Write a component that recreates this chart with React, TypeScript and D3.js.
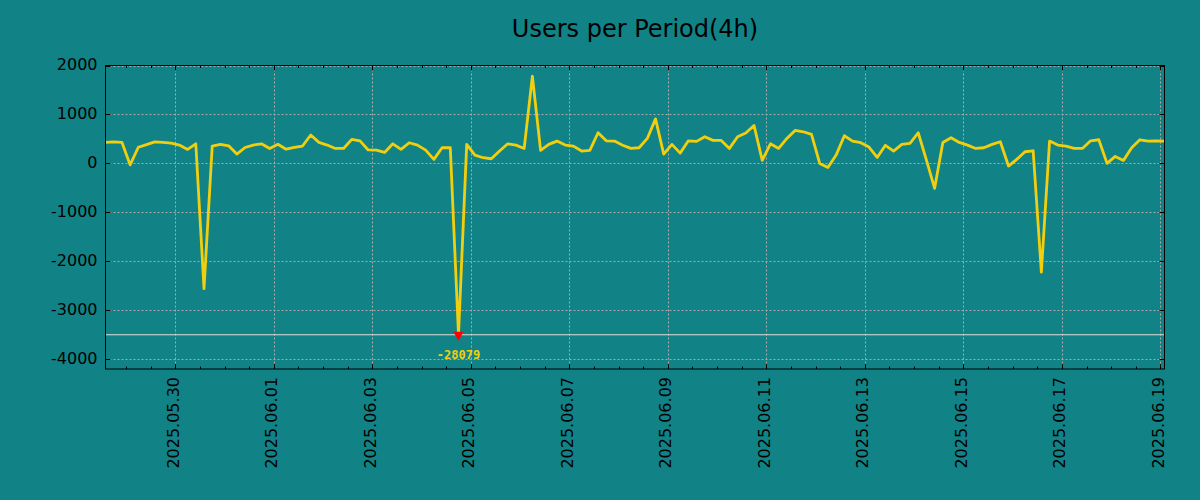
import { useEffect, useRef } from "react";
import * as d3 from "d3";

// 4h periods, first period starts here
const START_TIME = "2025-05-28T14:00:00";
const PERIOD_HOURS = 4;

const userCounts = [
  430, 440, 430, -30, 330, 385, 440, 430, 415, 375,
  285, 400, -2560, 355, 390, 360, 190, 325, 375, 400,
  305, 390, 290, 325, 355, 580, 430, 375, 305, 305,
  490, 460, 275, 272, 224, 400, 286, 422, 374, 272,
  82, 320, 320, -28079, 388, 170, 116, 95, 252, 400,
  374, 306, 1780, 265, 388, 456, 374, 354, 252, 265,
  626, 462, 456, 370, 306, 320, 510, 910, 190, 388,
  210, 462, 450, 544, 470, 470, 306, 544, 620, 775,
  61, 400, 306, 510, 673, 646, 592, 0, -82, 170,
  564, 456, 422, 333, 122, 370, 252, 388, 408, 626,
  68, -510, 428, 524, 428, 374, 306, 320, 388, 442,
  -54, 82, 238, 258, -2220, 456, 374, 354, 306, 306,
  462, 483, 0, 143, 61, 320, 483, 456, 462, 456,
];

const xTickLabels = [
  "2025.05.30", "2025.06.01", "2025.06.03", "2025.06.05", "2025.06.07",
  "2025.06.09", "2025.06.11", "2025.06.13", "2025.06.15", "2025.06.17",
  "2025.06.19",
];
const yTicks = [-4000, -3000, -2000, -1000, 0, 1000, 2000];
const yDomain = [-4200, 2000];

// values below this are drawn at the limit with a marker
const CLIP_VALUE = -3500;
const TITLE = "Users per Period(4h)";

const BG = "#118387";
const LINE = "#f2cf0e";
const GRID = "#a9a9a9";
const FONT = "'DejaVu Sans', sans-serif";

export default function App() {
  const svgRef = useRef<SVGSVGElement | null>(null);

  useEffect(() => {
    if (!svgRef.current) return;

    const width = 1200;
    const height = 500;
    const left = 105.5;
    const right = 1164.5;
    const top = 65.5;
    const bottom = 369;

    const svg = d3.select(svgRef.current);
    svg.selectAll("*").remove();

    svg.append("rect").attr("width", width).attr("height", height).attr("fill", BG);

    const start = new Date(START_TIME);
    const data = userCounts.map((v, i) => ({
      time: d3.timeHour.offset(start, i * PERIOD_HOURS),
      value: v,
    }));

    const x = d3
      .scaleTime()
      .domain([data[0].time, data[data.length - 1].time])
      .range([left, right]);
    const y = d3.scaleLinear().domain(yDomain).range([bottom, top]);

    const parseTick = d3.timeParse("%Y.%m.%d");
    const xTicks = xTickLabels.map((s) => parseTick(s) as Date);
    const minorTicks = d3.timeHour
      .every(12)!
      .range(x.domain()[0], d3.timeHour.offset(x.domain()[1], 1));

    // grid
    const grid = svg.append("g").attr("stroke", GRID).attr("stroke-width", 1).attr("stroke-dasharray", "2,2");
    grid
      .selectAll("line.gx")
      .data(xTicks)
      .join("line")
      .attr("x1", (d) => Math.round(x(d)) + 0.5)
      .attr("x2", (d) => Math.round(x(d)) + 0.5)
      .attr("y1", top)
      .attr("y2", bottom);
    grid
      .selectAll("line.gy")
      .data(yTicks)
      .join("line")
      .attr("x1", left)
      .attr("x2", right)
      .attr("y1", (d) => Math.round(y(d)) + 0.5)
      .attr("y2", (d) => Math.round(y(d)) + 0.5);

    // limit line
    svg
      .append("line")
      .attr("x1", left)
      .attr("x2", right)
      .attr("y1", y(CLIP_VALUE))
      .attr("y2", y(CLIP_VALUE))
      .attr("stroke", "#e2ddd9")
      .attr("stroke-width", 1.2);

    svg
      .append("clipPath")
      .attr("id", "plot-clip")
      .append("rect")
      .attr("x", left)
      .attr("y", top)
      .attr("width", right - left)
      .attr("height", bottom - top);

    const line = d3
      .line<{ time: Date; value: number }>()
      .x((d) => x(d.time))
      .y((d) => y(Math.max(d.value, CLIP_VALUE)));

    svg
      .append("path")
      .datum(data)
      .attr("clip-path", "url(#plot-clip)")
      .attr("fill", "none")
      .attr("stroke", LINE)
      .attr("stroke-width", 2.8)
      .attr("stroke-linejoin", "round")
      .attr("d", line);

    // outlier markers
    const outliers = data.filter((d) => d.value < CLIP_VALUE);
    const yc = y(CLIP_VALUE);
    svg
      .selectAll("path.outlier")
      .data(outliers)
      .join("path")
      .attr("fill", "#ff0000")
      .attr("d", (d) => {
        const cx = x(d.time);
        return `M${cx - 5},${yc - 3}L${cx + 5},${yc - 3}L${cx},${yc + 6}Z`;
      });
    svg
      .selectAll("text.outlier")
      .data(outliers)
      .join("text")
      .attr("x", (d) => x(d.time))
      .attr("y", yc + 24.5)
      .attr("text-anchor", "middle")
      .attr("font-family", "'DejaVu Sans Mono', monospace")
      .attr("font-weight", "bold")
      .attr("font-size", 12)
      .attr("fill", LINE)
      .text((d) => String(d.value));

    // frame
    svg
      .append("rect")
      .attr("x", left)
      .attr("y", top)
      .attr("width", right - left)
      .attr("height", bottom - top)
      .attr("fill", "none")
      .attr("stroke", "#000")
      .attr("stroke-width", 1);

    // ticks, pointing inward on all sides
    const ticks = svg.append("g").attr("stroke", "#000").attr("stroke-width", 1);
    const xt = (d: Date) => Math.round(x(d)) + 0.5;
    const yt = (d: number) => Math.round(y(d)) + 0.5;
    xTicks.forEach((d) => {
      ticks.append("line").attr("x1", xt(d)).attr("x2", xt(d)).attr("y1", bottom).attr("y2", bottom - 5);
      ticks.append("line").attr("x1", xt(d)).attr("x2", xt(d)).attr("y1", top).attr("y2", top + 5);
    });
    minorTicks.forEach((d) => {
      ticks.append("line").attr("x1", xt(d)).attr("x2", xt(d)).attr("y1", bottom).attr("y2", bottom - 2.5);
      ticks.append("line").attr("x1", xt(d)).attr("x2", xt(d)).attr("y1", top).attr("y2", top + 2.5);
    });
    yTicks.forEach((d) => {
      ticks.append("line").attr("x1", left).attr("x2", left + 5).attr("y1", yt(d)).attr("y2", yt(d));
      ticks.append("line").attr("x1", right).attr("x2", right - 5).attr("y1", yt(d)).attr("y2", yt(d));
    });

    // tick labels
    svg
      .selectAll("text.ylab")
      .data(yTicks)
      .join("text")
      .attr("x", left - 8)
      .attr("y", (d) => y(d) - 1)
      .attr("text-anchor", "end")
      .attr("dominant-baseline", "central")
      .attr("font-family", FONT)
      .attr("font-size", 16)
      .attr("fill", "#000")
      .text((d) => String(d));

    svg
      .selectAll("text.xlab")
      .data(xTicks)
      .join("text")
      .attr("transform", (d) => `translate(${x(d) - 2},${bottom + 8}) rotate(-90)`)
      .attr("text-anchor", "end")
      .attr("dominant-baseline", "central")
      .attr("font-family", FONT)
      .attr("font-size", 16)
      .attr("fill", "#000")
      .text((d, i) => xTickLabels[i]);

    svg
      .append("text")
      .attr("x", (left + right) / 2)
      .attr("y", 37)
      .attr("text-anchor", "middle")
      .attr("font-family", FONT)
      .attr("font-size", 24)
      .attr("fill", "#000")
      .text(TITLE);
  }, []);

  return (
    <svg
      ref={svgRef}
      width={1200}
      height={500}
      style={{ position: "absolute", left: 0, top: 0, display: "block" }}
    ></svg>
  );
}
